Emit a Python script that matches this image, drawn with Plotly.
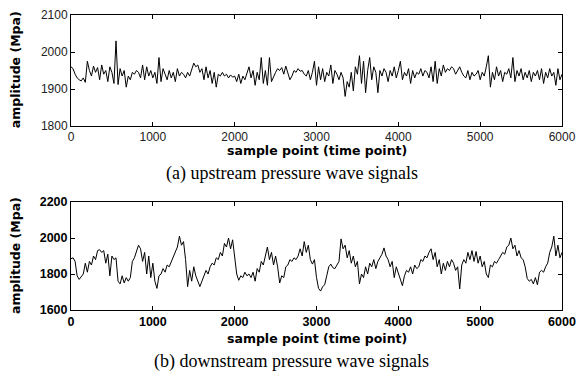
import plotly.graph_objects as go
from plotly.subplots import make_subplots

# sample points (every 25 samples from 0 to 6000)
sample_step = 25
n_points = 241

upstream = [
    1960, 1955, 1940, 1930, 1925, 1922, 1930, 1918, 1975, 1950, 1935, 1962, 1945, 1958, 1925, 1965, 1940, 1950, 1920, 1960,
    1945, 1915, 2030, 1912, 1955, 1935, 1950, 1905, 1935, 1925, 1945, 1940, 1950, 1945, 1930, 1965, 1925, 1960, 1935, 1950,
    1930, 1945, 1915, 1985, 1920, 1955, 1940, 1925, 1950, 1930, 1945, 1920, 1955, 1935, 1945, 1940, 1930, 1945, 1935, 1950,
    1970, 1960, 1965, 1945, 1955, 1925, 1960, 1930, 1950, 1915, 1945, 1905, 1940, 1935, 1945, 1935, 1940, 1930, 1938, 1932,
    1935, 1920, 1940, 1915, 1935, 1925, 1945, 1960, 1930, 1950, 1910, 1945, 1925, 1985, 1915, 1950, 1910, 1985, 1920, 1935,
    1945, 1955, 1950, 1958, 1940, 1962, 1945, 1925, 1935, 1950, 1945, 1955, 1948, 1950, 1940, 1935, 1950, 1925, 1945, 1975,
    1910, 1960, 1925, 1955, 1920, 1945, 1935, 1965, 1915, 1950, 1940, 1925, 1945, 1930, 1880, 1920, 1905, 1945, 1895, 1960,
    1940, 1990, 1915, 1975, 1890, 1950, 1985, 1925, 1960, 1945, 1890, 1950, 1935, 1955, 1945, 1920, 1950, 1935, 1960, 1930,
    1950, 1975, 1925, 1945, 1935, 1955, 1915, 1950, 1930, 1945, 1940, 1955, 1935, 1950, 1945, 1930, 1960, 1920, 1975, 1915,
    1955, 1935, 1965, 1945, 1955, 1950, 1960, 1955, 1940, 1950, 1960, 1945, 1935, 1930, 1950, 1925, 1945, 1935, 1940, 1950,
    1925, 1945, 1935, 1960, 1990, 1905, 1945, 1925, 1960, 1935, 1950, 1920, 1945, 1940, 1955, 1930, 1985, 1920, 1950, 1935,
    1955, 1925, 1945, 1930, 1950, 1920, 1945, 1935, 1950, 1925, 1955, 1915, 1945, 1930, 1955, 1935, 1945, 1910, 1955, 1925,
    1940,
]

downstream = [
    1885, 1890, 1870, 1790, 1770, 1785, 1800, 1860, 1810, 1870, 1850, 1900, 1880, 1930, 1935, 1920, 1930, 1860, 1910, 1790,
    1900, 1880, 1890, 1760, 1745, 1790, 1750, 1780, 1760, 1780, 1870, 1890, 1920, 1960, 1940, 1870, 1920, 1800, 1900, 1780,
    1860, 1760, 1720, 1790, 1800, 1830, 1810, 1850, 1840, 1870, 1900, 1930, 1950, 2010, 1960, 1980, 1880, 1730, 1820, 1760,
    1840, 1790, 1760, 1730, 1760, 1790, 1820, 1800, 1840, 1860, 1850, 1890, 1880, 1920, 1900, 1970, 1950, 2000, 1940, 1990,
    1880, 1800, 1765, 1790, 1780, 1810, 1790, 1800, 1780, 1810, 1760, 1830, 1810, 1870, 1850, 1900, 1950, 1880, 1920, 1850,
    1900, 1840, 1750, 1790, 1780, 1840, 1850, 1880, 1870, 1890, 1880, 1900, 1940, 1900, 1980, 1920, 1960, 1880, 1855, 1880,
    1780, 1720, 1705, 1730, 1740, 1790, 1840, 1855, 1835, 1830, 1850, 1870, 1995, 1940, 1960, 1890, 1930, 1860, 1900, 1840,
    1870, 1745, 1800, 1780, 1840, 1800, 1860, 1840, 1880, 1830, 1870, 1890, 1910, 1945, 1900, 1880, 1840, 1870, 1780, 1840,
    1800, 1760, 1735, 1790, 1820, 1810, 1840, 1800, 1850, 1830, 1840, 1880, 1870, 1900, 1890, 1920, 1940, 1880, 1920, 1840,
    1880, 1800, 1860, 1820, 1870, 1840, 1880, 1860, 1820, 1840, 1717, 1850, 1880, 1860, 1920, 1880, 1930, 1870, 1925, 1860,
    1900, 1840, 1870, 1800, 1780, 1850, 1840, 1870, 1860, 1880, 1900, 1920, 1910, 1950, 1960, 2000, 1940, 1960, 1900, 1930,
    1890, 1880, 1840, 1775, 1760, 1770, 1745, 1780, 1740, 1810, 1820, 1810, 1840, 1860, 1920, 1950, 2010, 1900, 1960, 1890,
    1920,
]

samples = [i * sample_step for i in range(n_points)]

x_ticks = [0, 1000, 2000, 3000, 4000, 5000, 6000]
top_y_ticks = [1800, 1900, 2000, 2100]
bot_y_ticks = [1600, 1800, 2000, 2200]

x_title = "sample point (time point)"
y_title = "amplitude (Mpa)"
caption_a = "(a) upstream pressure wave signals"
caption_b = "(b) downstream pressure wave signals"

fig = make_subplots(rows=2, cols=1)
fig.add_trace(go.Scatter(x=samples, y=upstream, mode="lines",
                         line=dict(color="black", width=1), showlegend=False), row=1, col=1)
fig.add_trace(go.Scatter(x=samples, y=downstream, mode="lines",
                         line=dict(color="black", width=1), showlegend=False), row=2, col=1)

axis_common = dict(showline=True, linecolor="black", linewidth=1, mirror="ticks",
                   ticks="inside", ticklen=4, tickcolor="black", showgrid=False,
                   zeroline=False, automargin=False)

fig.update_xaxes(**axis_common, range=[0, 6000], tickvals=x_ticks,
                 tickfont=dict(family="Liberation Sans", size=12, color="#222"),
                 domain=[0, 1], row=1, col=1)
fig.update_yaxes(**axis_common, range=[1800, 2100], tickvals=top_y_ticks,
                 tickfont=dict(family="Liberation Sans", size=12, color="#222"),
                 domain=[0.6237, 1], row=1, col=1)
fig.update_xaxes(**axis_common, range=[0, 6000], tickvals=x_ticks,
                 tickfont=dict(family="Liberation Sans", size=12.5, color="black", weight="bold"),
                 domain=[0, 1], row=2, col=1)
fig.update_yaxes(**axis_common, range=[1600, 2200], tickvals=bot_y_ticks,
                 tickfont=dict(family="Liberation Sans", size=12.5, color="black", weight="bold"),
                 domain=[0, 0.3661], row=2, col=1)

title_font = dict(family="DejaVu Sans", size=12.5, color="black", weight="bold")
cap_font = dict(family="Liberation Serif", size=18, color="black")
ann = [
    dict(text=x_title, x=0.5, y=0.539, font=title_font),
    dict(text=x_title, x=0.5, y=-0.095, font=title_font),
    dict(text=y_title, x=-0.114, y=0.813, font=title_font, textangle=-90),
    dict(text=y_title, x=-0.114, y=0.183, font=title_font, textangle=-90),
    dict(text=caption_a, x=0.45, y=0.464, font=cap_font),
    dict(text=caption_b, x=0.45, y=-0.176, font=cap_font),
]
for a in ann:
    fig.add_annotation(xref="paper", yref="paper", showarrow=False,
                       xanchor="center", yanchor="middle", **a)

fig.update_layout(width=576, height=374, margin=dict(l=71, r=14, t=15, b=64, autoexpand=False),
                  plot_bgcolor="white", paper_bgcolor="white")

# remove the default page margin so the figure sits at the window origin
fig.write_html("out.html", config={"displayModeBar": False},
               post_script="document.body.style.margin='0';document.body.style.overflow='hidden';")
